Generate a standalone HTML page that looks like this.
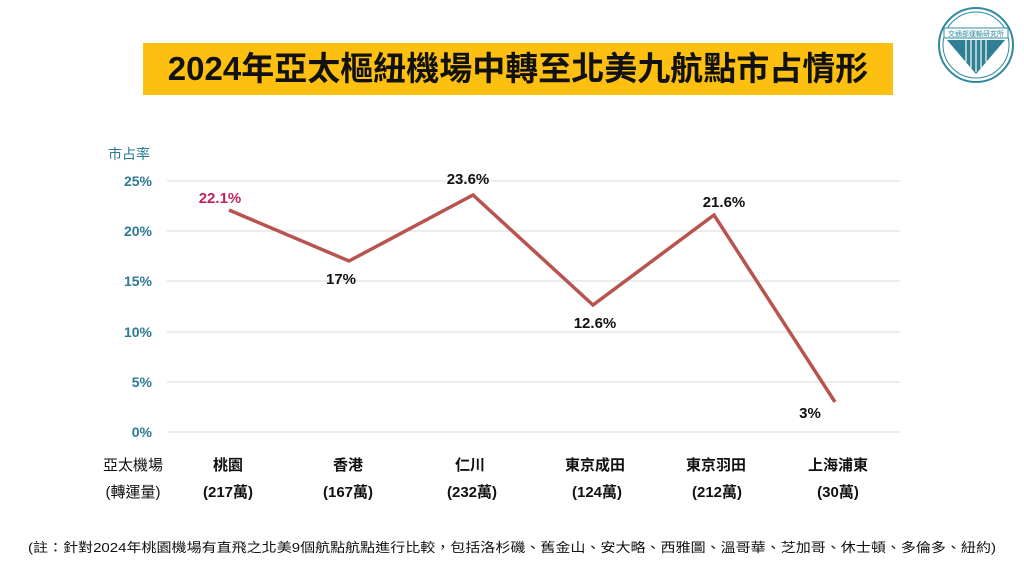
<!DOCTYPE html>
<html><head><meta charset="utf-8"><style>
body{margin:0;width:1024px;height:576px;background:#fff;position:relative;overflow:hidden;font-family:"Liberation Sans","Noto Sans CJK TC",sans-serif}
.t{position:absolute;white-space:nowrap}
</style></head><body>
<div class="t" style="left:143px;top:43px;width:750px;height:52px;background:#fdc011;"></div>
<div class="t" style="left:143px;top:43px;width:750px;height:52px;line-height:52px;text-align:center;font-size:33px;font-weight:bold;color:#111;font-family:'Liberation Sans','Noto Sans CJK TC',sans-serif;">2024年亞太樞紐機場中轉至北美九航點市占情形</div>
<svg style="position:absolute;left:0;top:0" width="1024" height="576">
<g>
<circle cx="976" cy="45" r="37" fill="#fff" stroke="#2f8aa0" stroke-width="2"/>
<circle cx="976" cy="45" r="33" fill="none" stroke="#2f8aa0" stroke-width="1"/>
<rect x="944" y="28" width="64" height="10" fill="#fff" stroke="#2f8aa0" stroke-width="1"/>
<text x="976" y="36" font-size="7" text-anchor="middle" fill="#2f8aa0">交通部運輸研究所</text>
<polygon points="947,40 1005,40 976,74" fill="#2f7f95"/>
<g stroke="#fff" stroke-width="1.2"><line x1="966" y1="40" x2="966" y2="62"/><line x1="971" y1="40" x2="971" y2="68"/><line x1="976" y1="40" x2="976" y2="72"/><line x1="981" y1="40" x2="981" y2="68"/><line x1="986" y1="40" x2="986" y2="62"/></g>
</g>
<g stroke="#d9d9d9" stroke-width="1">
<line x1="167" y1="181" x2="900" y2="181"/><line x1="167" y1="231" x2="900" y2="231"/><line x1="167" y1="281" x2="900" y2="281"/><line x1="167" y1="332" x2="900" y2="332"/><line x1="167" y1="382" x2="900" y2="382"/><line x1="167" y1="432" x2="900" y2="432"/>
</g>
<g font-size="14" font-weight="bold" fill="#2c7a93" text-anchor="end">
<text x="152" y="186">25%</text><text x="152" y="236">20%</text><text x="152" y="286">15%</text><text x="152" y="337">10%</text><text x="152" y="387">5%</text><text x="152" y="437">0%</text>
</g>
<text x="108" y="159" font-size="14" fill="#2c7a93">市占率</text>
<polyline points="229,210 349,261 473,195 593,305 714,215 835,402" fill="none" stroke="#b85450" stroke-width="3.5" stroke-linejoin="miter"/>
<g font-size="15" font-weight="bold" fill="#111" text-anchor="middle">
<text x="220" y="203" fill="#c0215e">22.1%</text>
<text x="341" y="284">17%</text>
<text x="468" y="184">23.6%</text>
<text x="595" y="328">12.6%</text>
<text x="724" y="207">21.6%</text>
<text x="810" y="418">3%</text>
</g>
<g font-size="15" fill="#111" text-anchor="middle" font-weight="bold">
<text x="228" y="470">桃園</text><text x="348" y="470">香港</text><text x="470" y="470">仁川</text><text x="595" y="470">東京成田</text><text x="716" y="470">東京羽田</text><text x="838" y="470">上海浦東</text>
<text x="228" y="497">(217萬)</text><text x="348" y="497">(167萬)</text><text x="472" y="497">(232萬)</text><text x="597" y="497">(124萬)</text><text x="717" y="497">(212萬)</text><text x="838" y="497">(30萬)</text>
</g>
<g font-size="15" fill="#111" text-anchor="middle">
<text x="133" y="470">亞太機場</text><text x="133" y="497">(轉運量)</text>
</g>
<text x="28" y="552" font-size="13" fill="#111" textLength="968" lengthAdjust="spacingAndGlyphs">(註：針對2024年桃園機場有直飛之北美9個航點航點進行比較，包括洛杉磯、舊金山、安大略、西雅圖、溫哥華、芝加哥、休士頓、多倫多、紐約)</text>
</svg>
</body></html>
